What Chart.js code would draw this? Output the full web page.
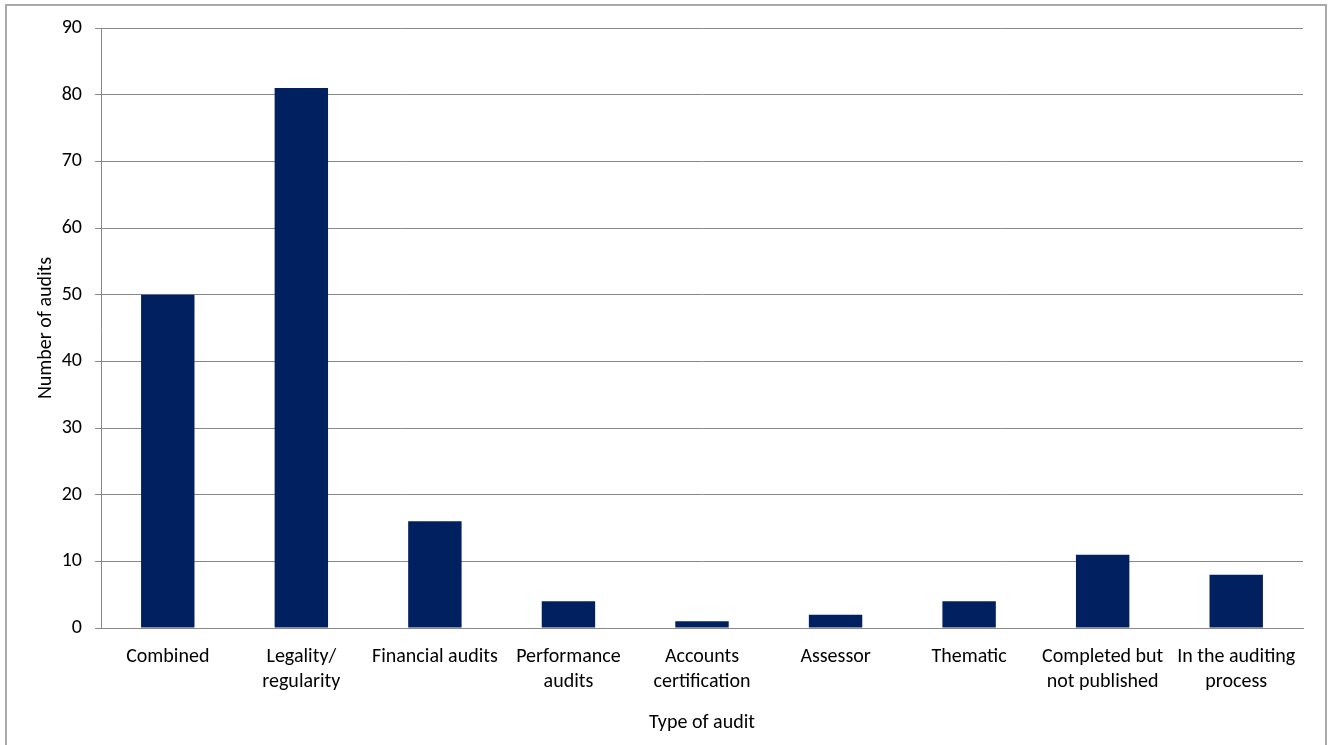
<!DOCTYPE html>
<html>
<head>
<meta charset="utf-8">
<script src="https://cdn.jsdelivr.net/npm/chart.js@4"></script>
<style>
  html, body { margin: 0; padding: 0; background: #fff; overflow: hidden; }
  #frame { position: absolute; left: 5px; top: 4px; width: 1318px; height: 760px; border: 2px solid #a9a9a9; }
  #wrap  { position: absolute; left: 0; top: 0; width: 1330px; height: 745px; }
</style>
</head>
<body>
<div id="frame"></div>
<div id="wrap"><canvas id="chart"></canvas></div>
<script>
// ── Data ─────────────────────────────────────────────────────────────
const categories = [
  'Combined',
  ['Legality/', 'regularity'],
  'Financial audits',
  ['Performance', 'audits'],
  ['Accounts', 'certification'],
  'Assessor',
  'Thematic',
  ['Completed but', 'not published'],
  ['In the auditing', 'process'],
];
const audits = [50, 81, 16, 4, 1, 2, 4, 11, 8];

const FONT = 'Carlito, Lato, "Open Sans", sans-serif';
const GRID = '#888888';

new Chart(document.getElementById('chart').getContext('2d'), {
  type: 'bar',
  data: {
    labels: categories,
    datasets: [{
      label: 'Number of audits',
      data: audits,
      backgroundColor: '#00205f',
      borderWidth: 0,
      categoryPercentage: 1,
      barPercentage: 0.4,
    }],
  },
  options: {
    responsive: true,
    maintainAspectRatio: false,
    animation: false,
    layout: { padding: { left: 34, right: 27, top: 28, bottom: 10 } },
    plugins: { legend: { display: false }, tooltip: { enabled: false } },
    scales: {
      x: {
        grid: { display: false, drawTicks: false },
        border: { display: true, color: GRID, width: 1 },
        ticks: { color: '#000', font: { family: FONT, size: 20, lineHeight: 1.25 }, padding: 16, maxRotation: 0, autoSkip: false },
        title: { display: true, text: 'Type of audit', color: '#000', font: { family: FONT, size: 20 }, padding: { top: 0, bottom: 0 } },
        afterFit: s => { s.height = 745 - 628 - 10; },
      },
      y: {
        min: 0, max: 90,
        ticks: { stepSize: 10, color: '#000', font: { family: FONT, size: 20 }, padding: 13 },
        grid: { color: GRID, lineWidth: 1, tickLength: 6, drawTicks: true },
        border: { display: true, color: GRID, width: 1 },
        title: { display: true, text: 'Number of audits', color: '#000', font: { family: FONT, size: 20 }, padding: { top: 0, bottom: 0 } },
        afterFit: s => { s.width = 101 - 34; },
      },
    },
  },
});
</script>
</body>
</html>
